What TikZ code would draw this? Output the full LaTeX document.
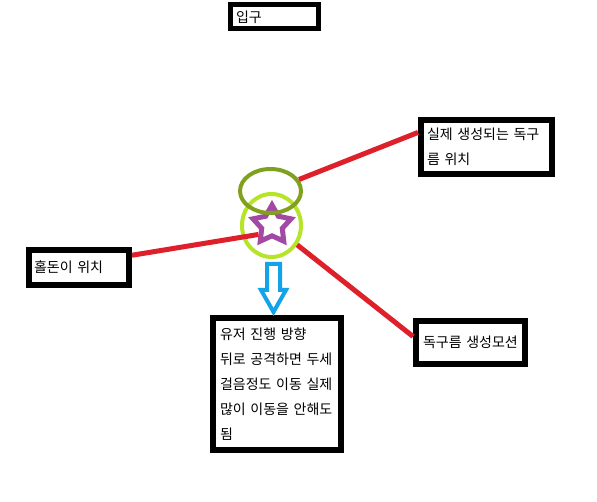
\documentclass[tikz,border=0pt]{standalone}
\usepackage{fontspec}
\setmainfont{Noto Sans CJK KR}
\usetikzlibrary{shapes.geometric}

\definecolor{linkred}{RGB}{222,32,42}
\definecolor{olivering}{RGB}{128,160,30}
\definecolor{limering}{RGB}{182,228,40}
\definecolor{starpurple}{RGB}{163,73,164}
\definecolor{arrowblue}{RGB}{20,162,232}

\begin{document}
\begin{tikzpicture}[x=1pt,y=-1pt,
		note box/.style={rectangle,draw,line width=6pt,fill=white,inner xsep=6pt,inner ysep=0pt,
			align=left,font=\fontsize{14}{25}\selectfont},
		ring/.style={ellipse,draw,line width=4pt,inner sep=0pt},
		red link/.style={draw=linkred,line width=5pt}]
	\useasboundingbox (0,0) rectangle (597,502);
	
	% text boxes
	\node[note box,line width=5pt,text width=76pt,minimum height=24pt] (entry) at (274,17) {입구};
	\node[note box,text width=119pt,minimum height=54pt] (real) at (486.5,147) {실제 생성되는 독구\\름 위치};
	\node[note box,inner xsep=5pt,text width=90pt,minimum height=35pt] (hol) at (79,267.5) {홀돈이 위치};
	\node[note box,inner xsep=7pt,text width=114pt,minimum height=132pt] (user) at (277,384)
		{유저 진행 방향\\뒤로 공격하면 두세\\걸음정도 이동 실제\\많이 이동을 안해도\\됨};
	\node[note box,inner xsep=7pt,text width=95pt,minimum height=43pt] (motion) at (470.5,342.5) {독구름 생성모션};
	
	% rings and star
	\node[ring,draw=limering,minimum width=59pt,minimum height=63pt] (lime) at (271.5,225.5) {};
	\node[star,star points=5,star point ratio=1.85,draw=starpurple,line width=5pt,
		inner sep=0pt,minimum size=40pt] (star) at (272,225) {};
	\node[ring,draw=olivering,minimum width=61pt,minimum height=44pt] (olive) at (270.5,191) {};
	
	% red links
	\draw[red link] (olive.22) -- (real.168.5);
	\draw[red link] (hol.13) -- (star.215);
	\draw[red link] (lime.-37) -- (motion.174);
	
	% direction arrow
	\draw[arrowblue,line width=4pt] (267,264) -- (280,264) -- (280,290) -- (286,290)
		-- (273.5,312) -- (261,290) -- (267,290) -- cycle;
\end{tikzpicture}
\end{document}
